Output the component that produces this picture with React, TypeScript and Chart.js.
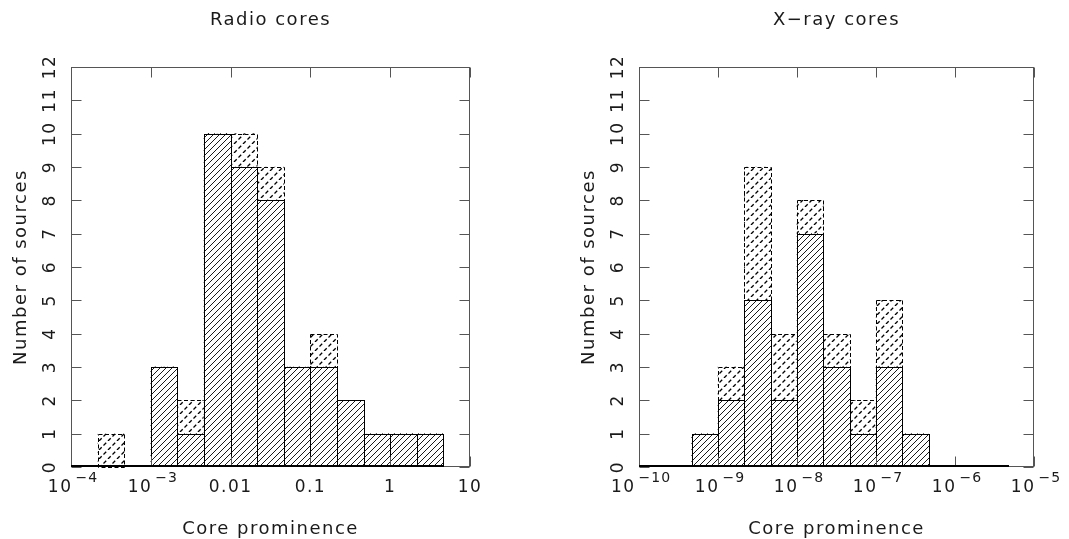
import React, { useEffect, useRef } from "react";
import { Chart, registerables } from "chart.js";

Chart.register(...registerables);

// ---------- data ----------
const radioBinCentres = [
  1.4678e-4, 3.1623e-4, 6.8129e-4, 1.4678e-3, 3.1623e-3, 6.8129e-3, 0.014678,
  0.031623, 0.068129, 0.14678, 0.31623, 0.68129, 1.4678, 3.1623,
];
const radioDetections = [0, 0, 0, 3, 1, 10, 9, 8, 3, 3, 2, 1, 1, 1];
const radioLimits = [0, 1, 0, 0, 1, 0, 1, 1, 0, 1, 0, 0, 0, 0];

const xrayBinCentres = [
  1.4678e-10, 3.1623e-10, 6.8129e-10, 1.4678e-9, 3.1623e-9, 6.8129e-9, 1.4678e-8,
  3.1623e-8, 6.8129e-8, 1.4678e-7, 3.1623e-7, 6.8129e-7, 1.4678e-6, 3.1623e-6,
];
const xrayDetections = [0, 0, 1, 2, 5, 2, 7, 3, 1, 3, 1, 0, 0, 0];
const xrayLimits = [0, 0, 0, 1, 4, 2, 1, 1, 1, 2, 0, 0, 0, 0];

const radioTicks = [1e-4, 1e-3, 1e-2, 1e-1, 1, 10];
const radioTickLabels: [string, string][] = [
  ["10", "\u22124"],
  ["10", "\u22123"],
  ["0.01", ""],
  ["0.1", ""],
  ["1", ""],
  ["10", ""],
];
const xrayTicks = [1e-10, 1e-9, 1e-8, 1e-7, 1e-6, 1e-5];
const xrayTickLabels: [string, string][] = [
  ["10", "\u221210"],
  ["10", "\u22129"],
  ["10", "\u22128"],
  ["10", "\u22127"],
  ["10", "\u22126"],
  ["10", "\u22125"],
];
const countTicks = [0, 1, 2, 3, 4, 5, 6, 7, 8, 9, 10, 11, 12];

const yTitle = "Number of sources";
const xTitle = "Core prominence";

// ---------- helpers ----------
const FONT = '"DejaVu Sans", sans-serif';
const TEXT = "#1a1a1a";

function makeHatch(size: number, dashed: boolean): CanvasPattern | string {
  const c = document.createElement("canvas");
  c.width = size;
  c.height = size;
  const g = c.getContext("2d");
  if (!g) return "#fff";
  g.fillStyle = "#fff";
  g.fillRect(0, 0, size, size);
  g.strokeStyle = "#000";
  g.lineWidth = dashed ? 1.3 : 0.9;
  if (dashed) {
    const diag = size * Math.SQRT2;
    const period = diag / 2;
    g.setLineDash([period * 0.6, period * 0.4]);
  }
  for (const k of [-1, 0, 1]) {
    g.beginPath();
    g.moveTo(k * size, size);
    g.lineTo(k * size + size, 0);
    g.stroke();
  }
  const p = g.createPattern(c, "repeat");
  return p || "#fff";
}

type PanelCfg = {
  title: string;
  centres: number[];
  detections: number[];
  limits: number[];
  ticks: number[];
  tickLabels: [string, string][];
  xmin: number;
  xmax: number;
};

function drawSpaced(ctx: CanvasRenderingContext2D, s: string, x: number, y: number, spacing: number) {
  (ctx as any).letterSpacing = spacing + "px";
  ctx.fillText(s, x, y);
  (ctx as any).letterSpacing = "0px";
}

function measureSpaced(ctx: CanvasRenderingContext2D, s: string, spacing: number) {
  (ctx as any).letterSpacing = spacing + "px";
  const w = ctx.measureText(s).width;
  (ctx as any).letterSpacing = "0px";
  return w;
}

function makePlugin(cfg: PanelCfg) {
  return {
    id: "pgplotFrame",
    afterDatasetsDraw(chart: any) {
      const ctx: CanvasRenderingContext2D = chart.ctx;
      const det = chart.getDatasetMeta(0).data;
      const lim = chart.getDatasetMeta(1).data;
      const snap = (v: number) => Math.round(v) + 0.5;
      ctx.save();
      ctx.strokeStyle = "#000";
      // upper limit outlines (dashed)
      ctx.lineWidth = 1;
      ctx.setLineDash([4, 2.5]);
      lim.forEach((el: any, i: number) => {
        if (!cfg.limits[i]) return;
        const l = snap(el.x - el.width / 2);
        const r = snap(el.x + el.width / 2);
        const t = snap(el.y);
        const b = snap(el.base);
        ctx.strokeRect(l, t, r - l, b - t);
      });
      // detection outlines (solid)
      ctx.setLineDash([]);
      det.forEach((el: any, i: number) => {
        if (!cfg.detections[i]) return;
        const l = snap(el.x - el.width / 2);
        const r = snap(el.x + el.width / 2);
        const t = snap(el.y);
        const b = snap(el.base) - 1;
        ctx.strokeRect(l, t, r - l, b - t);
      });
      ctx.restore();
    },
    afterDraw(chart: any) {
      const ctx: CanvasRenderingContext2D = chart.ctx;
      const { left, right, top, bottom } = chart.chartArea;
      const xs = chart.scales.x;
      const ys = chart.scales.y;
      const L = Math.round(left) + 0.5;
      const R = Math.round(right) - 0.5;
      const T = Math.round(top) + 0.5;
      const B = Math.round(bottom) - 0.5;
      const tickLen = 10;
      ctx.save();
      ctx.strokeStyle = "#555";
      ctx.lineWidth = 1;
      ctx.strokeRect(L, T, R - L, B - T);
      ctx.beginPath();
      countTicks.forEach((v) => {
        const py = Math.round(ys.getPixelForValue(v)) + 0.5;
        ctx.moveTo(L, py);
        ctx.lineTo(L + tickLen, py);
        ctx.moveTo(R, py);
        ctx.lineTo(R - tickLen, py);
      });
      cfg.ticks.forEach((v) => {
        const px = Math.round(xs.getPixelForValue(v)) + 0.5;
        ctx.moveTo(px, T);
        ctx.lineTo(px, T + tickLen);
        ctx.moveTo(px, B);
        ctx.lineTo(px, B - tickLen);
      });
      ctx.stroke();

      // baseline across all bins (histogram floor)
      const det = chart.getDatasetMeta(0).data;
      const first = det[0];
      const last = det[det.length - 1];
      const y0 = Math.round(ys.getPixelForValue(0));
      ctx.strokeStyle = "#000";
      ctx.lineWidth = 2;
      ctx.beginPath();
      ctx.moveTo(Math.round(first.x - first.width / 2), y0 - 1);
      ctx.lineTo(Math.round(last.x + last.width / 2) + 1, y0 - 1);
      ctx.stroke();

      ctx.fillStyle = TEXT;
      ctx.textBaseline = "alphabetic";
      // y tick labels (rotated)
      ctx.font = `17px ${FONT}`;
      countTicks.forEach((v) => {
        const py = ys.getPixelForValue(v);
        ctx.save();
        ctx.translate(left - 16, py);
        ctx.rotate(-Math.PI / 2);
        const w = measureSpaced(ctx, String(v), 1.5);
        ctx.textAlign = "left";
        drawSpaced(ctx, String(v), -w / 2, 0, 1.5);
        ctx.restore();
      });
      // x tick labels with superscripts
      ctx.textAlign = "left";
      cfg.ticks.forEach((v, i) => {
        const [base, sup] = cfg.tickLabels[i];
        const px = xs.getPixelForValue(v);
        ctx.font = `17px ${FONT}`;
        const wb = measureSpaced(ctx, base, 1.5);
        ctx.font = `14px ${FONT}`;
        const wsup = sup ? measureSpaced(ctx, sup, 1) : 0;
        const total = wb + (sup ? 3 + wsup : 0);
        const start = px - total / 2 + (sup ? 2 : 0);
        ctx.font = `17px ${FONT}`;
        drawSpaced(ctx, base, start, bottom + 25, 1.5);
        if (sup) {
          ctx.font = `14px ${FONT}`;
          drawSpaced(ctx, sup, start + wb + 3, bottom + 15, 1);
        }
      });
      // titles
      const cx = (left + right) / 2;
      ctx.font = `18px ${FONT}`;
      const tw = measureSpaced(ctx, cfg.title, 1.5);
      drawSpaced(ctx, cfg.title, cx - tw / 2, 25, 1.5);
      const xw = measureSpaced(ctx, xTitle, 1.5);
      drawSpaced(ctx, xTitle, cx - xw / 2, 534, 1.5);
      ctx.save();
      ctx.translate(left - 45, (top + bottom) / 2);
      ctx.rotate(-Math.PI / 2);
      const yw = measureSpaced(ctx, yTitle, 1.5);
      drawSpaced(ctx, yTitle, -yw / 2, 0, 1.5);
      ctx.restore();
      ctx.restore();
    },
  };
}

function Panel(props: {
  cfg: PanelCfg;
  x: number;
  width: number;
  padding: { left: number; right: number; top: number; bottom: number };
}) {
  const ref = useRef<HTMLCanvasElement>(null);
  const { cfg, padding } = props;
  useEffect(() => {
    if (!ref.current) return;
    const solid = makeHatch(6, false);
    const dashed = makeHatch(9, true);
    const chart = new Chart(ref.current, {
      type: "bar",
      data: {
        datasets: [
          {
            label: "detections",
            data: cfg.centres.map((c, i) => ({ x: c, y: cfg.detections[i] })),
            backgroundColor: solid as any,
            borderWidth: 0,
            barPercentage: 1,
            categoryPercentage: 1,
          },
          {
            label: "upper limits",
            data: cfg.centres.map((c, i) => ({ x: c, y: cfg.limits[i] })),
            backgroundColor: dashed as any,
            borderWidth: 0,
            barPercentage: 1,
            categoryPercentage: 1,
          },
        ],
      },
      options: {
        responsive: false,
        animation: false,
        devicePixelRatio: 1,
        layout: { padding },
        plugins: {
          legend: { display: false },
          tooltip: { enabled: false },
          title: { display: false },
        },
        scales: {
          x: {
            type: "logarithmic",
            min: cfg.xmin,
            max: cfg.xmax,
            stacked: true,
            display: false,
            afterBuildTicks: (scale: any) => {
              scale.ticks = cfg.ticks.map((v) => ({ value: v }));
            },
          },
          y: {
            type: "linear",
            min: 0,
            max: 12,
            stacked: true,
            display: false,
          },
        },
      },
      plugins: [makePlugin(cfg)],
    } as any);
    return () => chart.destroy();
  }, []);
  return (
    <div style={{ position: "absolute", left: props.x, top: 0, width: props.width, height: 539 }}>
      <canvas ref={ref} width={props.width} height={539} style={{ width: props.width, height: 539 }} />
    </div>
  );
}

export default function App() {
  const radio: PanelCfg = {
    title: "Radio cores",
    centres: radioBinCentres,
    detections: radioDetections,
    limits: radioLimits,
    ticks: radioTicks,
    tickLabels: radioTickLabels,
    xmin: radioTicks[0],
    xmax: radioTicks[radioTicks.length - 1],
  };
  const xray: PanelCfg = {
    title: "X\u2212ray cores",
    centres: xrayBinCentres,
    detections: xrayDetections,
    limits: xrayLimits,
    ticks: xrayTicks,
    tickLabels: xrayTickLabels,
    xmin: xrayTicks[0],
    xmax: xrayTicks[xrayTicks.length - 1],
  };
  return (
    <div style={{ position: "fixed", left: 0, top: 0, width: 1069, height: 539, background: "#fff" }}>
      <Panel cfg={radio} x={0} width={535} padding={{ left: 71, right: 65, top: 67, bottom: 72 }} />
      <Panel cfg={xray} x={535} width={534} padding={{ left: 104, right: 35, top: 67, bottom: 72 }} />
    </div>
  );
}
